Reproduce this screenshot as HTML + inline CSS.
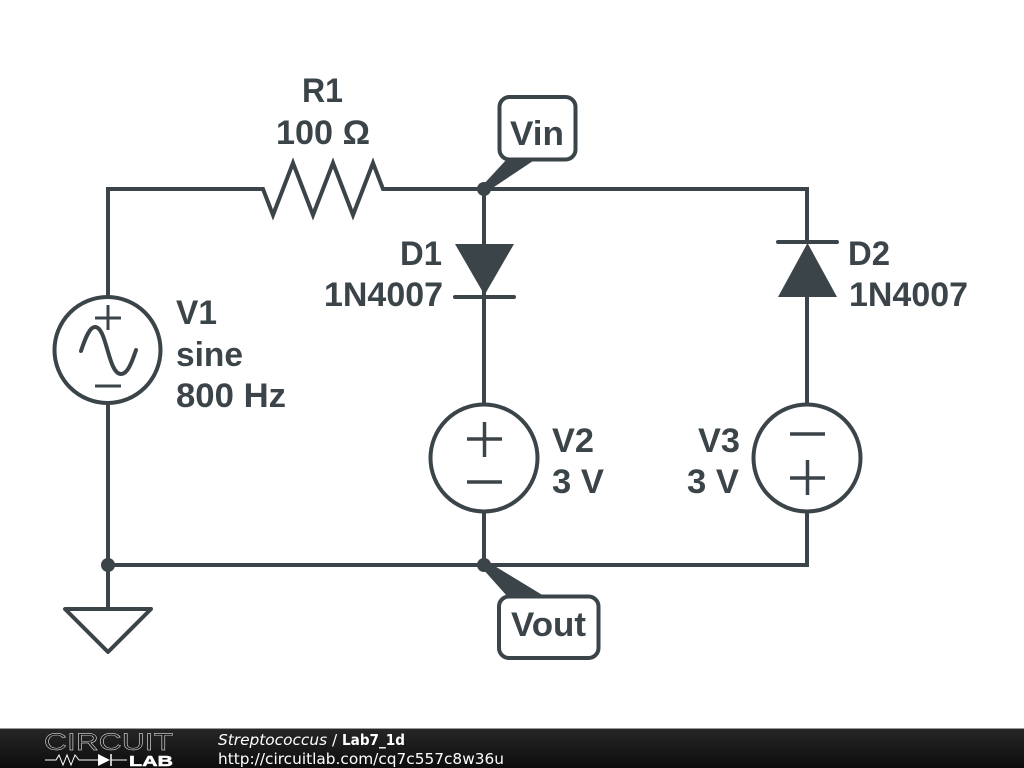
<!DOCTYPE html>
<html><head><meta charset="utf-8"><style>
html,body{margin:0;padding:0;background:#fff;width:1024px;height:768px;overflow:hidden}
svg{display:block}
.t{font:bold 34px "Liberation Sans",sans-serif;fill:#3b4449}
.f{font:15.350px "DejaVu Sans",sans-serif;fill:#fff}
</style></head><body>
<svg width="1024" height="768" viewBox="0 0 1024 768" xmlns="http://www.w3.org/2000/svg">
<defs><linearGradient id="g" x1="0" y1="0" x2="0" y2="1"><stop offset="0" stop-color="#262626"/><stop offset="1" stop-color="#0d0d0d"/></linearGradient></defs>
<g fill="none" stroke="#3b4449" stroke-width="4" stroke-linejoin="miter">
<path d="M108 296V189H263L273 215L293 163L313 215L333 163L353 215L373 163L383 189H807V243"/>
<path d="M108 403V609"/>
<path d="M484 189V403"/>
<path d="M484 512V565"/>
<path d="M108 565H807V512"/>
<path d="M807 297V404"/>
<circle cx="107.500" cy="350" r="53"/>
<circle cx="484" cy="458" r="53.500"/>
<circle cx="807" cy="458" r="53.500"/>
<path d="M95 318H121M108 305V330M95 386H121" stroke-width="3"/>
<path d="M81 351C86 336 90 327 95 327C107 327 108 374 121 374C127 374 131 365 136 350" stroke-linecap="round"/>
<path d="M467 439H502M484.500 422V457M467 482H502" stroke-width="3.500"/>
<path d="M790 434H825M790 478H825M807.500 460V495" stroke-width="3.500"/>
<path d="M455 297H514M778 242H837" stroke-linecap="round"/>
<path d="M65 609H151L108 652Z" stroke-linejoin="round"/>
<rect x="499.500" y="97" width="76" height="62.500" rx="10" fill="#fff"/>
<rect x="499" y="596.500" width="99.500" height="61.500" rx="10" fill="#fff"/>
</g>
<g fill="#3b4449">
<path d="M455 244H514L484.500 295Z"/>
<path d="M778 297H837L807.500 243Z"/>
<circle cx="484" cy="189" r="7"/>
<circle cx="108" cy="565" r="7"/>
<circle cx="484" cy="565" r="7"/>
<path d="M482 186L507 159H536L488 191Z"/>
<path d="M482 568L488 562L544 596H507Z"/>
</g>
<text class="t" x="302" y="102" textLength="41" lengthAdjust="spacingAndGlyphs">R1</text>
<text class="t" x="276" y="144" textLength="94" lengthAdjust="spacingAndGlyphs">100 Ω</text>
<text class="t" x="510" y="145" textLength="54" lengthAdjust="spacingAndGlyphs">Vin</text>
<text class="t" x="511" y="636" textLength="75" lengthAdjust="spacingAndGlyphs">Vout</text>
<text class="t" x="400" y="265" textLength="42" lengthAdjust="spacingAndGlyphs">D1</text>
<text class="t" x="324" y="306" textLength="119" lengthAdjust="spacingAndGlyphs">1N4007</text>
<text class="t" x="848" y="265" textLength="42" lengthAdjust="spacingAndGlyphs">D2</text>
<text class="t" x="849" y="306" textLength="119" lengthAdjust="spacingAndGlyphs">1N4007</text>
<text class="t" x="176" y="324" textLength="41" lengthAdjust="spacingAndGlyphs">V1</text>
<text class="t" x="176" y="366" textLength="67" lengthAdjust="spacingAndGlyphs">sine</text>
<text class="t" x="176" y="407" textLength="110" lengthAdjust="spacingAndGlyphs">800 Hz</text>
<text class="t" x="552" y="452" textLength="42" lengthAdjust="spacingAndGlyphs">V2</text>
<text class="t" x="552" y="493" textLength="52" lengthAdjust="spacingAndGlyphs">3 V</text>
<text class="t" x="698" y="452" textLength="42" lengthAdjust="spacingAndGlyphs">V3</text>
<text class="t" x="687" y="493" textLength="52" lengthAdjust="spacingAndGlyphs">3 V</text>
<rect x="0" y="729" width="1024" height="39" fill="url(#g)"/>
<rect x="0" y="728" width="1024" height="1" fill="#999"/>
<text x="44" y="750" font-family="Liberation Sans" font-size="24" fill="#1e1e1e" stroke="#fff" stroke-width=".4" textLength="129" lengthAdjust="spacingAndGlyphs">CIRCUIT</text>
<text x="129" y="766" font-family="Liberation Sans" font-weight="bold" font-size="15" fill="#fff" stroke="#fff" stroke-width=".5" textLength="44" lengthAdjust="spacingAndGlyphs">LAB</text>
<path d="M45 760H56L59 755L63 765L67 755L71 765L75 755L79 760H98" fill="none" stroke="#fff" stroke-width="1"/>
<path d="M98 754V766L110 760Z" fill="#fff"/>
<path d="M111 754V766" stroke="#fff" stroke-width="1.500"/>
<path d="M111 760H127" stroke="#fff" stroke-width="1"/>
<text class="f" x="218" y="745"><tspan font-style="italic">Streptococcus</tspan> / </text>
<text class="f" x="342" y="745" style="font-weight:bold" textLength="63" lengthAdjust="spacingAndGlyphs">Lab7_1d</text>
<text class="f" x="218" y="764">http://circuitlab.com/cq7c557c8w36u</text>
</svg>
</body></html>
